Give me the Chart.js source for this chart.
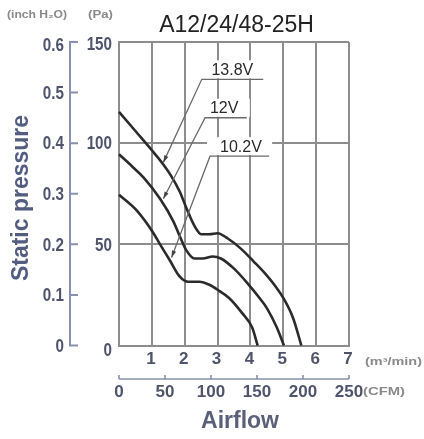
<!DOCTYPE html>
<html>
<head>
<meta charset="utf-8">
<script src="https://cdn.jsdelivr.net/npm/chart.js@4.4.0/dist/chart.umd.min.js"></script>
<style>
  html, body { margin: 0; padding: 0; background: #fff; }
  canvas { display: block; }
</style>
</head>
<body>
<canvas id="fan" width="424" height="439"></canvas>
<script>
// P-Q curves: airflow in m3/min, static pressure in Pa
const flow138 = [0, 0.5, 1.0, 1.35, 1.6, 1.85, 2.05, 2.3, 2.5, 2.75, 3.0, 3.3, 3.7, 4.1, 4.45, 4.75, 5.0, 5.3, 5.55];
const pres138 = [115.5, 106, 96.5, 89.5, 83.5, 76, 68, 59, 55, 55, 55.5, 53, 48, 41.5, 35.5, 29.5, 23.5, 13.5, 0];

const flow120 = [0, 0.4, 0.75, 1.25, 1.65, 1.85, 2.05, 2.3, 2.55, 2.85, 3.1, 3.5, 3.9, 4.3, 4.5, 4.8, 5.02];
const pres120 = [94.5, 88.5, 83, 72.5, 61.5, 54, 47, 43, 43, 44, 43, 38, 31, 23, 18.5, 9, 0];

const flow102 = [0, 0.55, 1.05, 1.25, 1.55, 1.85, 2.1, 2.45, 2.75, 3.05, 3.35, 3.75, 4.05, 4.22];
const pres102 = [74.5, 66.5, 55.5, 50, 42, 34, 31.5, 31.5, 30, 27, 23.5, 16, 9, 0];

const voltLabels = ['13.8V', '12V', '10.2V'];
const paTicks = [0, 50, 100, 150];
const inchTicks = [0, 0.1, 0.2, 0.3, 0.4, 0.5, 0.6];
const m3Ticks = [0, 1, 2, 3, 4, 5, 6, 7];
const cfmTicks = [0, 50, 100, 150, 200, 250];

// the sheet lines up 0.6 inH2O with 150 Pa and 250 CFM with 7 m3/min
const PA_PER_INCH = 250;
const M3_PER_CFM = 7 / 250;

// callout placement in data units: text centre, underline span, arrow tip
const callouts = [
  { at: [3.45, 136], line: [2.52, 4.39], tip: [1.35, 90.5] },
  { at: [3.2, 117], line: [2.62, 3.89], tip: [1.35, 72.5] },
  { at: [3.71, 98], line: [2.77, 4.57], tip: [1.6, 43.5] },
];

const axisInk = '#4f546c';
const axisLine = '#8790ae';
const gridInk = '#8d8d8d';

function pts(xs, ys) {
  return xs.map((x, i) => ({ x: x, y: ys[i] }));
}

// draw text squeezed or stretched horizontally, k = x scale
function wide(ctx, text, x, y, k) {
  ctx.save();
  ctx.translate(x, y);
  ctx.scale(k, 1);
  ctx.fillText(text, 0, 0);
  ctx.restore();
}

// left-aligned text stretched to span a given width
function spanText(ctx, text, x, y, w) {
  wide(ctx, text, x, y, w / ctx.measureText(text).width);
}

const extras = {
  id: 'extras',
  afterDatasetsDraw(chart) {
    const ctx = chart.ctx;
    const sx = chart.scales.x, sy = chart.scales.y;
    const area = chart.chartArea;
    ctx.save();

    // callouts
    const boxes = callouts.map((c, i) => {
      const tx = sx.getPixelForValue(c.at[0]);
      const ty = sy.getPixelForValue(c.at[1]);
      return {
        text: voltLabels[i], tx: tx, ty: ty, uy: ty + 9,
        u0: sx.getPixelForValue(c.line[0]), u1: sx.getPixelForValue(c.line[1]),
        px: sx.getPixelForValue(c.tip[0]), py: sy.getPixelForValue(c.tip[1])
      };
    });
    ctx.fillStyle = '#fff';
    boxes.forEach(b => ctx.fillRect(b.u0 - 3, b.ty - 10, b.u1 - b.u0 + 6, b.uy - b.ty + 9));
    boxes.forEach(b => {
      ctx.fillStyle = '#2a2a2a';
      ctx.font = '16px "Liberation Sans", Arial, sans-serif';
      ctx.textAlign = 'center';
      ctx.textBaseline = 'middle';
      ctx.fillText(b.text, b.tx, b.ty);
      ctx.strokeStyle = '#6a6a6a';
      ctx.lineWidth = 1.3;
      ctx.beginPath();
      ctx.moveTo(b.u1, b.uy);
      ctx.lineTo(b.u0, b.uy);
      ctx.lineTo(b.px, b.py);
      ctx.stroke();
      const a = Math.atan2(b.py - b.uy, b.px - b.u0);
      ctx.fillStyle = '#444';
      ctx.beginPath();
      ctx.moveTo(b.px, b.py);
      ctx.lineTo(b.px - 7 * Math.cos(a) + 2.2 * Math.sin(a), b.py - 7 * Math.sin(a) - 2.2 * Math.cos(a));
      ctx.lineTo(b.px - 7 * Math.cos(a) - 2.2 * Math.sin(a), b.py - 7 * Math.sin(a) + 2.2 * Math.cos(a));
      ctx.closePath();
      ctx.fill();
    });

    // title
    ctx.fillStyle = '#222';
    ctx.font = '23px "Liberation Sans", Arial, sans-serif';
    ctx.textAlign = 'center';
    ctx.textBaseline = 'alphabetic';
    ctx.fillText('A12/24/48-25H', 236.5, 31.5);

    // unit captions
    ctx.fillStyle = '#8a8a8a';
    ctx.font = 'bold 10px "Liberation Sans", Arial, sans-serif';
    ctx.textAlign = 'left';
    ctx.textBaseline = 'middle';
    spanText(ctx, '(inch H\u2082O)', 7, 15, 60);
    spanText(ctx, '(Pa)', 88, 15, 25);
    spanText(ctx, '(m\u00b3/min)', 365, area.bottom + 17, 57);
    spanText(ctx, '(CFM)', 363, area.bottom + 47, 42);

    // inch H2O axis
    const inchY = v => sy.getPixelForValue(v * PA_PER_INCH);
    const ax = area.left - 49;
    ctx.strokeStyle = axisLine;
    ctx.lineWidth = 2;
    ctx.beginPath();
    ctx.moveTo(ax, inchY(0.6));
    ctx.lineTo(ax, inchY(0));
    inchTicks.forEach(v => {
      ctx.moveTo(ax - 1, inchY(v));
      ctx.lineTo(ax + 8, inchY(v));
    });
    ctx.stroke();
    ctx.fillStyle = axisInk;
    ctx.font = 'bold 19px "Liberation Sans", Arial, sans-serif';
    inchTicks.forEach(v => {
      const txt = v === 0 ? '0' : v.toFixed(1);
      const w = ctx.measureText(txt).width * 0.8;
      wide(ctx, txt, ax - 6 - w, inchY(v) + (v === 0.6 ? 4 : 1), 0.8);
    });

    // Pa labels
    paTicks.forEach(v => {
      const txt = String(v);
      const w = ctx.measureText(txt).width * 0.8;
      const py = sy.getPixelForValue(v) + (v === 150 ? 3 : (v === 0 ? 5 : 1));
      wide(ctx, txt, area.left - 7 - w, py, 0.8);
    });

    // m3/min labels
    ctx.font = 'bold 17px "Liberation Sans", Arial, sans-serif';
    ctx.textAlign = 'center';
    m3Ticks.filter(v => v > 0).forEach(v => ctx.fillText(String(v), sx.getPixelForValue(v) - 1, area.bottom + 14));

    // CFM axis
    const cfmX = v => sx.getPixelForValue(v * M3_PER_CFM);
    const cy = area.bottom + 33.5;
    ctx.strokeStyle = axisLine;
    ctx.lineWidth = 1.6;
    ctx.beginPath();
    ctx.moveTo(cfmX(0), cy);
    ctx.lineTo(cfmX(250), cy);
    cfmTicks.forEach(v => {
      ctx.moveTo(cfmX(v), cy);
      ctx.lineTo(cfmX(v), cy - 4);
    });
    ctx.stroke();
    cfmTicks.forEach(v => ctx.fillText(String(v), cfmX(v), area.bottom + 46.5));

    // axis titles
    ctx.fillStyle = '#5a6078';
    ctx.font = 'bold 23px "Liberation Sans", Arial, sans-serif';
    ctx.fillText('Airflow', 240, area.bottom + 76);
    ctx.save();
    ctx.translate(22, 198);
    ctx.rotate(-Math.PI / 2);
    ctx.fillStyle = '#535d80';
    ctx.fillText('Static pressure', 0, 0);
    ctx.restore();

    ctx.restore();
  }
};

const curve = (label, xs, ys) => ({
  label: label,
  data: pts(xs, ys),
  showLine: true,
  borderColor: '#2b2b2b',
  borderWidth: 2.6,
  pointRadius: 0,
  cubicInterpolationMode: 'monotone',
  clip: false
});

new Chart(document.getElementById('fan'), {
  type: 'scatter',
  data: {
    datasets: [
      curve(voltLabels[0], flow138, pres138),
      curve(voltLabels[1], flow120, pres120),
      curve(voltLabels[2], flow102, pres102)
    ]
  },
  options: {
    responsive: false,
    animation: false,
    devicePixelRatio: 1,
    layout: { padding: { left: 119, right: 75, top: 42, bottom: 93.5 } },
    plugins: { legend: { display: false }, tooltip: { enabled: false } },
    scales: {
      x: {
        type: 'linear', min: 0, max: 7,
        ticks: { display: false },
        grid: { color: gridInk, lineWidth: 2, drawTicks: false },
        border: { color: gridInk, width: 2 },
        afterBuildTicks: s => { s.ticks = m3Ticks.map(v => ({ value: v })); },
        afterFit: s => { s.height = 0; }
      },
      y: {
        type: 'linear', min: 0, max: 150,
        ticks: { display: false },
        grid: { color: gridInk, lineWidth: 2, drawTicks: false },
        border: { color: gridInk, width: 2 },
        afterBuildTicks: s => { s.ticks = paTicks.map(v => ({ value: v })); },
        afterFit: s => { s.width = 0; }
      }
    }
  },
  plugins: [extras]
});
</script>
</body>
</html>
